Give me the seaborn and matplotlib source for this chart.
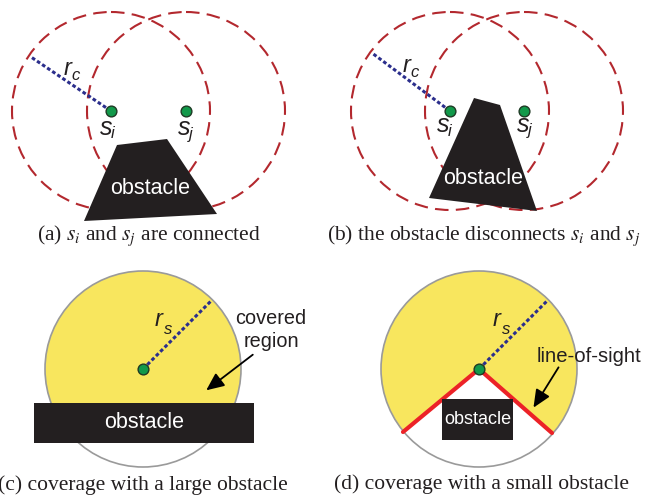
import numpy as np
import pandas as pd
import matplotlib
matplotlib.use("Agg")
import matplotlib.pyplot as plt
import matplotlib.patches as mpatches
import seaborn as sns

# ---- diagram data (pixel coordinates of the 664x499 canvas) ----
# (a) and (b): two sensors with communication range r_c
nodes_a = [(111, 111), (186, 111)]
nodes_b = [(450, 111), (524, 111)]
rc = 99
rc_end_a = (31, 57)
rc_end_b = (372, 53)
obstacle_a = [(117, 145), (167, 139), (217, 214), (84, 221)]
obstacle_b = [(474, 98), (500, 105), (537, 211), (429, 198)]

# (c) and (d): one sensor with sensing range r_s
node_c = (143, 369)
node_d = (479, 369)
rs = 98
rs_end_c = (211, 301)
rs_end_d = (547, 301)
obstacle_c = (34, 403, 220, 40)     # x, y, width, height
obstacle_d = (442, 399, 71, 41)
sight_ends_d = [(403, 432), (552, 433)]

captions = ["(a) $s_i$ and $s_j$ are connected",
            "(b) the obstacle disconnects $s_i$ and $s_j$",
            "(c) coverage with a large obstacle",
            "(d) coverage with a small obstacle"]
caption_pos = [(149, 236), (484, 236), (143, 485), (482, 484)]

# colours
red_dash = "#B3282E"
blue_dot = "#2B2E8C"
green = "#12994A"
yellow = "#F8E65E"
dark = "#231F20"
gray = "#9A9A9A"
red_line = "#EC2227"

sns.set_theme(style="white")
plt.rcParams["font.family"] = ["Liberation Sans", "DejaVu Sans"]
plt.rcParams["mathtext.fontset"] = "stix"

fig = plt.figure(figsize=(6.64, 4.99), dpi=100)
ax = fig.add_axes([0, 0, 1, 1])
ax.set_xlim(0, 664)
ax.set_ylim(499, 0)
ax.axis("off")

dash = (0, (6.5, 3.5))
dot = (0, (1.2, 0.8))


def label(x, y, main, sub, size=16, subsize=12, dx=8, dy=7):
    ax.text(x, y, main, fontsize=size, style="italic", ha="center", va="center", color="#231F20", zorder=6)
    ax.text(x + dx, y + dy, sub, fontsize=subsize, style="italic", ha="center", va="center", color="#231F20", zorder=6)


# ---- (a) and (b) ----
for nodes, rc_end, poly, tx in [(nodes_a, rc_end_a, obstacle_a, (150, 188)),
                                 (nodes_b, rc_end_b, obstacle_b, (483, 178))]:
    for (x, y) in nodes:
        ax.add_patch(mpatches.Circle((x, y), rc, fill=False, ec=red_dash, lw=1.5, ls=dash, zorder=2))
    ax.plot([nodes[0][0], rc_end[0]], [nodes[0][1], rc_end[1]], color=blue_dot, lw=2.2, ls=dot, zorder=3)
    ax.add_patch(mpatches.Polygon(poly, closed=True, fc=dark, ec="none", zorder=4))
    ax.text(tx[0], tx[1], "obstacle", color="white", fontsize=15.5, ha="center", va="center", zorder=5)
    df = pd.DataFrame(nodes, columns=["x", "y"])
    sns.scatterplot(data=df, x="x", y="y", ax=ax, s=60, color=green, edgecolor="#1E3A24", linewidth=1, zorder=6)

label(68, 68, "r", "c", size=17, subsize=12, dx=8, dy=7)
label(407, 65, "r", "c", size=17, subsize=12, dx=8, dy=7)
for (sx, sy), sub in [((106, 128), "i"), ((184, 128), "j"), ((443, 125), "i"), ((523, 125), "j")]:
    label(sx, sy, "s", sub, size=18, subsize=12, dx=7, dy=6)

# ---- (c) ----
yc = mpatches.Circle(node_c, rs, fc=yellow, ec="none", zorder=1)
ax.add_patch(yc)
clip_c = mpatches.Rectangle((0, 0), 664, obstacle_c[1], transform=ax.transData)
yc.set_clip_path(clip_c)
ax.add_patch(mpatches.Circle(node_c, rs, fill=False, ec=gray, lw=1.2, zorder=2))
ax.plot([node_c[0], rs_end_c[0]], [node_c[1], rs_end_c[1]], color=blue_dot, lw=2.2, ls=dot, zorder=3)
ax.add_patch(mpatches.Rectangle(obstacle_c[:2], obstacle_c[2], obstacle_c[3], fc=dark, ec="none", zorder=4))
ax.text(obstacle_c[0] + obstacle_c[2] / 2, obstacle_c[1] + obstacle_c[3] / 2, "obstacle",
        color="white", fontsize=15.5, ha="center", va="center", zorder=5)
label(159, 320, "r", "s", size=17, subsize=12, dx=9, dy=9)
ax.text(271, 330, "covered\nregion", fontsize=14.3, ha="center", va="center", linespacing=1.3, color="#231F20")
ax.annotate("", xy=(204, 392), xytext=(255, 353),
            arrowprops=dict(arrowstyle="-|>,head_length=0.9,head_width=0.4", color="black", lw=1.3))

# ---- (d) ----
yd = mpatches.Circle(node_d, rs, fc=yellow, ec="none", zorder=1)
ax.add_patch(yd)
cx, cy = node_d
(lx, ly), (rx, ry) = sight_ends_d
clip_pts = [(cx + 2 * (lx - cx), cy + 2 * (ly - cy)), (cx, cy), (cx + 2 * (rx - cx), cy + 2 * (ry - cy)),
            (cx + 2 * (rx - cx), 0), (cx + 2 * (lx - cx), 0)]
clip_d = mpatches.Polygon(clip_pts, closed=True, transform=ax.transData)
yd.set_clip_path(clip_d)
ax.add_patch(mpatches.Circle(node_d, rs, fill=False, ec=gray, lw=1.2, zorder=2))
ax.plot([lx, cx, rx], [ly, cy, ry], color=red_line, lw=3, solid_joinstyle="miter", zorder=3)
ax.plot([cx, rs_end_d[0]], [cy, rs_end_d[1]], color=blue_dot, lw=2.2, ls=dot, zorder=3)
ax.add_patch(mpatches.Rectangle(obstacle_d[:2], obstacle_d[2], obstacle_d[3], fc=dark, ec="none", zorder=4))
ax.text(obstacle_d[0] + obstacle_d[2] / 2, obstacle_d[1] + obstacle_d[3] / 2, "obstacle",
        color="white", fontsize=13, ha="center", va="center", zorder=5)
label(497, 320, "r", "s", size=17, subsize=12, dx=9, dy=9)
ax.text(589, 357, "line-of-sight", fontsize=14.6, ha="center", va="center", color="#231F20")
ax.annotate("", xy=(532, 410), xytext=(560, 365),
            arrowprops=dict(arrowstyle="-|>,head_length=0.9,head_width=0.4", color="black", lw=1.3))

df_cd = pd.DataFrame([node_c, node_d], columns=["x", "y"])
sns.scatterplot(data=df_cd, x="x", y="y", ax=ax, s=60, color=green, edgecolor="#1E3A24", linewidth=1, zorder=6)

# ---- captions ----
for text, (x, y) in zip(captions, caption_pos):
    ax.text(x, y, text, fontsize=15.5, family="Liberation Serif", ha="center", va="center", color="#231F20")

ax.set_xlim(0, 664)
ax.set_ylim(499, 0)
ax.axis("off")
fig.savefig("out.png", dpi=100)
